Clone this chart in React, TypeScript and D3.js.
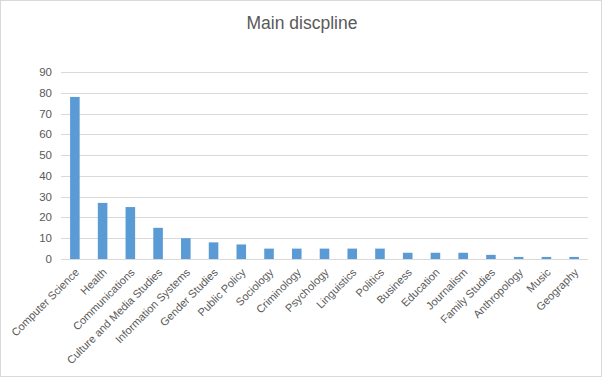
import React from "react";
import * as d3 from "d3";

const categories = [
  "Computer Science", "Health", "Communications", "Culture and Media Studies",
  "Information Systems", "Gender Studies", "Public Policy", "Sociology",
  "Criminology", "Psychology", "Linguistics", "Politics", "Business",
  "Education", "Journalism", "Family Studies", "Anthropology", "Music", "Geography",
];
const values = [78, 27, 25, 15, 10, 8, 7, 5, 5, 5, 5, 5, 3, 3, 3, 2, 1, 1, 1];
const yTicks = [0, 10, 20, 30, 40, 50, 60, 70, 80, 90];
const title = "Main discpline";

const W = 602, H = 377;
const M = { left: 61, right: 588, top: 72, bottom: 259 };
const FONT = "'Liberation Sans', Arial, sans-serif";

export default function App() {
  const x = d3.scaleBand<string>().domain(categories).range([M.left, M.right]).paddingInner(0.655).paddingOuter(0.3275);
  const y = d3.scaleLinear().domain([0, 90]).range([M.bottom, M.top]);
  return (
    <div style={{ position: "fixed", left: 0, top: 0 }}>
      <svg width={W} height={H} style={{ display: "block", background: "#fff" }}>
        <rect x={0.5} y={0.5} width={W - 1} height={H - 1} fill="#fff" stroke="#d9d9d9" />
        <text x={W / 2 + 1} y={29} textAnchor="middle" fontFamily={FONT} fontSize={17.5} fill="#595959">{title}</text>
        {yTicks.map((t) => (
          <g key={t}>
            <line x1={M.left} x2={M.right} y1={Math.round(y(t)) + 0.5} y2={Math.round(y(t)) + 0.5} stroke="#d9d9d9" />
            <text x={52} y={y(t) + 4} textAnchor="end" fontFamily={FONT} fontSize={11.5} fill="#595959">{t}</text>
          </g>
        ))}
        {categories.map((c, i) => (
          <rect key={c} x={x(c)} y={y(values[i])} width={x.bandwidth()} height={y(0) - y(values[i])} fill="#5b9bd5" />
        ))}
        {categories.map((c) => {
          const cx = (x(c) as number) + x.bandwidth() / 2;
          return (
            <text key={c} transform={`translate(${cx + 5},${273}) rotate(-45)`} textAnchor="end" fontFamily={FONT} fontSize={11} fill="#595959">{c}</text>
          );
        })}
      </svg>
    </div>
  );
}
